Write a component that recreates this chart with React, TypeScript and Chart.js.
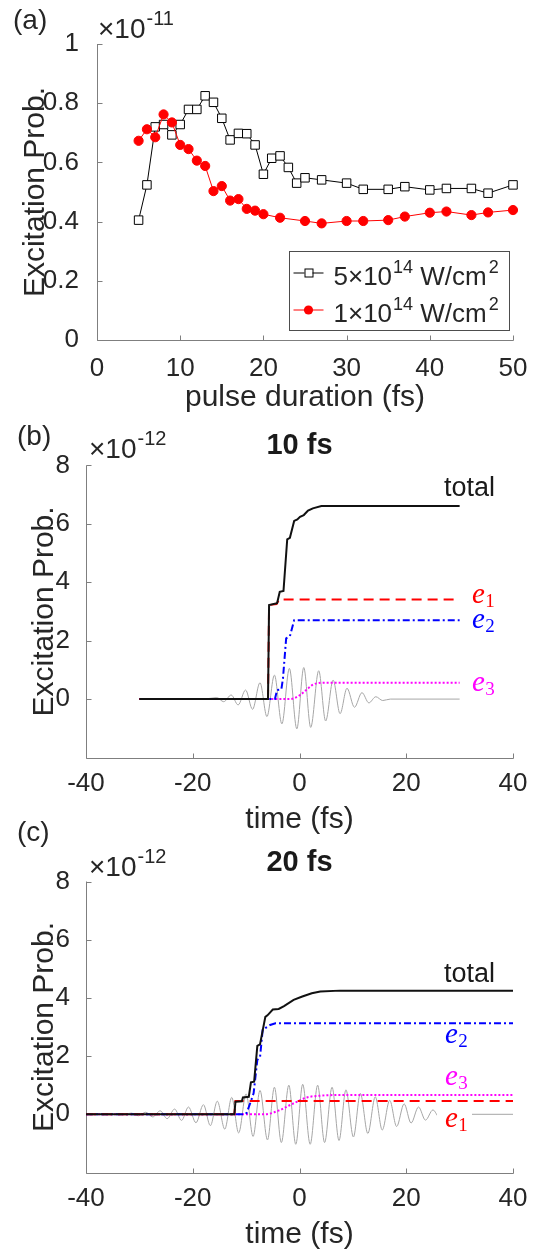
import React, { useEffect, useRef } from 'react';
import { Chart, registerables } from 'chart.js';
Chart.register(...registerables);

// ---------------- data ----------------
// panel (a): excitation probability (x1e-11) vs pulse duration (fs)
const durationHigh = [5, 6, 7, 8, 9, 10, 11, 12, 13, 14, 15, 16, 17, 18, 19, 20, 21, 22, 23, 24, 25, 27, 30, 32, 35, 37, 40, 42, 45, 47, 50];
const probHigh = [0.405, 0.524, 0.72, 0.728, 0.693, 0.728, 0.779, 0.779, 0.825, 0.803, 0.749, 0.676, 0.698, 0.697, 0.659, 0.56, 0.614, 0.622, 0.583, 0.53, 0.548, 0.541, 0.53, 0.509, 0.509, 0.518, 0.507, 0.512, 0.512, 0.496, 0.524];
const durationLow = [5, 6, 7, 8, 9, 10, 11, 12, 13, 14, 15, 16, 17, 18, 19, 20, 22, 25, 27, 30, 32, 35, 37, 40, 42, 45, 47, 50];
const probLow = [0.673, 0.712, 0.685, 0.762, 0.735, 0.659, 0.645, 0.606, 0.588, 0.503, 0.52, 0.471, 0.476, 0.443, 0.437, 0.425, 0.413, 0.402, 0.394, 0.402, 0.402, 0.405, 0.417, 0.43, 0.434, 0.422, 0.431, 0.439];
const ticksDuration = [0, 10, 20, 30, 40, 50];
const ticksProbA = [0, 0.2, 0.4, 0.6, 0.8, 1];

// panels (b), (c): time (fs) and probability (x1e-12)
const ticksTime = [-40, -20, 0, 20, 40];
const ticksProbB = [0, 2, 4, 6, 8];

// (b) 10 fs
const totalBX = [-30, -5.9, -5.7, -4.2, -3.7, -3.0, -2.3, -1.8, -1.0, -0.4, 0.1, 0.8, 1.6, 2.5, 4.1, 30];
const totalBY = [0, 0, 3.22, 3.28, 3.67, 3.7, 5.47, 5.52, 6.1, 6.15, 6.24, 6.3, 6.45, 6.53, 6.61, 6.61];
const e1BX = [-30, -5.9, -5.7, -4.3, -3.8, 30];
const e1BY = [0, 0, 3.22, 3.25, 3.41, 3.41];
const e2BX = [-30, -4.6, -4.2, -3.4, -3.1, -2.5, -1.8, -1.0, 30];
const e2BY = [0, 0, 0.31, 0.33, 0.7, 2.08, 2.15, 2.7, 2.7];
const e3BX = [-30, -2.0, -1.0, 0.1, 1.4, 2.3, 3.3, 5.1, 30];
const e3BY = [0, 0, 0.03, 0.14, 0.33, 0.47, 0.54, 0.56, 0.56];
const fieldBX = [-30, -18, -15.5, -14.2, -12.8, -11.5, -10.1, -8.8, -7.4, -6.1, -4.7, -3.3, -1.9, -0.5, 0.8, 2.1, 3.6, 4.9, 6.3, 7.6, 8.9, 10.3, 11.7, 13.0, 14.3, 15.6, 17.0, 30];
const fieldBY = [0, 0, 0.05, -0.09, 0.14, -0.2, 0.31, -0.35, 0.56, -0.6, 0.82, -0.85, 1.05, -1.02, 1.08, -0.97, 0.97, -0.75, 0.65, -0.5, 0.37, -0.28, 0.22, -0.13, 0.08, -0.05, 0, 0];

// (c) 20 fs
const totalCX = [-40, -12.2, -12.0, -10.8, -10.6, -9.5, -9.1, -8.5, -7.9, -7.4, -6.4, -6.0, -5.0, -3.9, -2.9, -1.1, 0.4, 2.3, 3.9, 7.6, 40];
const totalCY = [0, 0, 0.43, 0.45, 0.58, 0.6, 1.1, 1.12, 2.35, 2.4, 3.35, 3.4, 3.6, 3.62, 3.72, 3.93, 4.04, 4.16, 4.22, 4.25, 4.25];
const e1CX = [-40, -12.2, -12.0, 40];
const e1CY = [0, 0, 0.46, 0.46];
const e2CX = [-40, -10.2, -9.9, -9.2, -8.6, -7.9, -7.4, -6.9, -5.5, -4.5, 40];
const e2CY = [0, 0, 0.05, 0.4, 0.72, 1.87, 1.95, 2.9, 3.07, 3.13, 3.13];
const e3CX = [-40, -6.5, -3.6, -2.4, -0.5, 1.4, 3.9, 6.4, 40];
const e3CY = [0, 0, 0.15, 0.26, 0.43, 0.58, 0.64, 0.66, 0.66];
const fieldCX = [-40, -33, -31.5, -30.2, -28.8, -27.5, -26.1, -24.8, -23.4, -22.1, -20.8, -19.4, -18.0, -16.7, -15.4, -14.0, -12.7, -11.4, -10.0, -8.7, -7.4, -6.0, -4.7, -3.4, -2.0, -0.7, 0.6, 2.0, 3.4, 4.7, 6.1, 7.4, 8.7, 10.1, 11.4, 12.8, 14.2, 15.5, 16.9, 18.2, 19.6, 20.9, 22.3, 23.6, 25.0, 26.2, 27.5, 40];
const fieldCY = [0, 0, 0.04, -0.05, 0.07, -0.09, 0.12, -0.15, 0.18, -0.21, 0.25, -0.29, 0.33, -0.39, 0.45, -0.51, 0.58, -0.64, 0.7, -0.76, 0.82, -0.88, 0.93, -0.97, 1.0, -1.03, 1.03, -1.03, 1.0, -0.97, 0.93, -0.9, 0.84, -0.78, 0.72, -0.66, 0.6, -0.54, 0.48, -0.42, 0.36, -0.3, 0.25, -0.2, 0.15, -0.1, 0, 0];

// ---------------- styling helpers ----------------
const SANS = "'Liberation Sans', Arial, Helvetica, sans-serif";
const SERIF = "'Liberation Serif', 'Times New Roman', serif";
const TXT = '#262626';
const AXIS = '#7f7f7f';
const W = 536;
const TICK_SIZE = 26;

const pts = (xs: number[], ys: number[]) => xs.map((x, i) => ({ x, y: ys[i] }));

function drawAxes(chart: any) {
  const { ctx, chartArea: a, scales } = chart;
  const x = scales.x, y = scales.y;
  ctx.save();
  ctx.strokeStyle = AXIS;
  ctx.lineWidth = 1;
  ctx.beginPath();
  const L = Math.round(a.left) + 0.5, B = Math.round(a.bottom) + 0.5;
  ctx.moveTo(L, a.top);
  ctx.lineTo(L, B);
  ctx.lineTo(a.right + 0.5, B);
  for (const t of x.ticks) {
    const p = Math.round(x.getPixelForValue(t.value)) + 0.5;
    ctx.moveTo(p, B);
    ctx.lineTo(p, B - 5);
  }
  for (const t of y.ticks) {
    const p = Math.round(y.getPixelForValue(t.value)) + 0.5;
    ctx.moveTo(L, p);
    ctx.lineTo(L + 5, p);
  }
  ctx.stroke();
  ctx.restore();
}

function text(ctx: any, s: string, x: number, y: number, f: string, color = TXT, align = 'left') {
  ctx.font = f;
  ctx.fillStyle = color;
  ctx.textAlign = align;
  ctx.textBaseline = 'alphabetic';
  ctx.fillText(s, x, y);
  return x + ctx.measureText(s).width;
}

function yTitle(ctx: any, s: string, bx: number, cy: number, size: number) {
  ctx.save();
  ctx.translate(bx, cy);
  ctx.rotate(-Math.PI / 2);
  text(ctx, s, 0, 0, `${size}px ${SANS}`, TXT, 'center');
  ctx.restore();
}

function multiplier(ctx: any, x: number, y: number, exp: string) {
  const e = text(ctx, '\u00d710', x, y, `28px ${SANS}`);
  text(ctx, exp, e + 1, y - 13, `20px ${SANS}`);
}

function eLabel(ctx: any, x: number, y: number, sub: string, color: string, bg = false) {
  ctx.save();
  if (bg) {
    ctx.fillStyle = '#ffffff';
    ctx.fillRect(x - 8, y - 21, 35, 30);
  }
  const e = text(ctx, 'e', x, y, `italic 29px ${SERIF}`, color);
  text(ctx, sub, e + 0.5, y + 4, `19px ${SERIF}`, color);
  ctx.restore();
}

function scaleX(min: number, max: number, tickVals: number[], h: number, pad: number, fmt: (v: number) => string) {
  return {
    type: 'linear', min, max,
    afterBuildTicks: (s: any) => { s.ticks = tickVals.map((v) => ({ value: v })); },
    afterFit: (s: any) => { s.height = h; },
    ticks: { font: { family: SANS, size: TICK_SIZE }, color: TXT, padding: pad, maxRotation: 0, autoSkip: false, callback: (v: any) => fmt(Number(v)) },
    grid: { display: false }, border: { display: false },
  };
}
function scaleY(min: number, max: number, tickVals: number[], w: number, pad: number, fmt: (v: number) => string) {
  return {
    type: 'linear', min, max,
    afterBuildTicks: (s: any) => { s.ticks = tickVals.map((v) => ({ value: v })); },
    afterFit: (s: any) => { s.width = w; },
    ticks: { font: { family: SANS, size: TICK_SIZE }, color: TXT, padding: pad, autoSkip: false, callback: (v: any) => fmt(Number(v)) },
    grid: { display: false }, border: { display: false },
  };
}

// ---------------- panel (a) ----------------
function buildA(top: number, height: number) {
  const T = 44 - top, B = 340 - top, L = 97, R = 513;
  return {
    type: 'line',
    data: {
      datasets: [
        {
          data: pts(durationLow, probLow), borderColor: '#ff0000', borderWidth: 1,
          pointStyle: 'circle', pointRadius: 4.6, pointBackgroundColor: '#ff0000', pointBorderColor: '#ff0000', pointBorderWidth: 1, clip: false,
        },
        {
          data: pts(durationHigh, probHigh), borderColor: '#000000', borderWidth: 1,
          pointStyle: 'rect', pointRadius: 6, pointBackgroundColor: '#ffffff', pointBorderColor: '#000000', pointBorderWidth: 1, clip: false,
        },
      ],
    },
    options: {
      animation: false, responsive: false, events: [],
      layout: { padding: { left: 0, right: W - R, top: T, bottom: 0 } },
      plugins: { legend: { display: false }, tooltip: { enabled: false } },
      scales: {
        x: scaleX(0, 50, ticksDuration, height - B, 5, (v) => String(v)),
        y: scaleY(0, 1, ticksProbA, L, 10, (v) => (v === 0 || v === 1 ? String(v) : v.toFixed(1))),
      },
    },
    plugins: [{
      id: 'decorA',
      beforeDatasetsDraw: (c: any) => drawAxes(c),
      afterDraw: (c: any) => {
        const ctx = c.ctx, a = c.chartArea;
        ctx.save();
        text(ctx, '(a)', 13, 29 - top, `28px ${SANS}`);
        multiplier(ctx, a.left + 1, a.top - 6, '-11');
        text(ctx, 'pulse duration (fs)', (a.left + a.right) / 2, a.bottom + 66, `30px ${SANS}`, TXT, 'center');
        yTitle(ctx, 'Excitation Prob.', 44, (a.top + a.bottom) / 2, 30);
        // legend
        const bx = 289.5, by = 251.5 - top, bw = 220, bh = 79;
        ctx.fillStyle = '#ffffff';
        ctx.fillRect(bx, by, bw, bh);
        ctx.strokeStyle = '#4d4d4d';
        ctx.lineWidth = 1;
        ctx.strokeRect(bx, by, bw, bh);
        const rows = [
          { y: by + 21, color: '#000000', kind: 'rect', lead: '5' },
          { y: by + 58, color: '#ff0000', kind: 'circle', lead: '1' },
        ];
        for (const r of rows) {
          ctx.strokeStyle = r.color;
          ctx.beginPath();
          ctx.moveTo(bx + 4, r.y + 0.5);
          ctx.lineTo(bx + 34, r.y + 0.5);
          ctx.stroke();
          const cx = bx + 19;
          if (r.kind === 'rect') {
            ctx.fillStyle = '#fff';
            ctx.fillRect(cx - 4, r.y - 4, 8, 8);
            ctx.strokeStyle = '#000';
            ctx.strokeRect(cx - 4 + 0.5, r.y - 4 + 0.5, 8, 8);
          } else {
            ctx.fillStyle = '#ff0000';
            ctx.beginPath();
            ctx.arc(cx, r.y + 0.5, 4.6, 0, Math.PI * 2);
            ctx.fill();
          }
          let x = text(ctx, r.lead + '\u00d710', bx + 44, r.y + 12, `26px ${SANS}`);
          x = text(ctx, '14', x + 1, r.y, `18px ${SANS}`);
          x = text(ctx, ' W/cm', x, r.y + 12, `26px ${SANS}`);
          text(ctx, '2', x + 2, r.y, `18px ${SANS}`);
        }
        ctx.restore();
      },
    }],
  };
}

// ---------------- panels (b), (c) ----------------
type TimeSpec = {
  letter: string; title: string; xmin: number; xmax: number;
  pageT: number; pageB: number;
  total: [number[], number[]]; e1: [number[], number[]]; e2: [number[], number[]]; e3: [number[], number[]]; field: [number[], number[]];
  letterY: number; multY: number; titleY: number;
  labels: { t: string; x: number; y: number; sub?: string; color: string; bg?: boolean }[];
};

function buildTime(spec: TimeSpec) {
  return (top: number, height: number) => {
    const T = spec.pageT - top, B = spec.pageB - top, L = 86, R = 513;
    const line = (d: [number[], number[]], color: string, width: number, dash: number[], extra: any = {}) => ({
      data: pts(d[0], d[1]), borderColor: color, borderWidth: width, borderDash: dash, pointRadius: 0, clip: false, ...extra,
    });
    return {
      type: 'line',
      data: {
        datasets: [
          line(spec.total, '#111111', 2, []),
          line(spec.e1, '#ff0000', 2, [10, 6]),
          line(spec.e2, '#0000ff', 2, [7, 3, 2, 3]),
          line(spec.e3, '#ff00ff', 2, [2, 2], { cubicInterpolationMode: 'monotone' }),
          line(spec.field, '#a6a6a6', 1, [], { cubicInterpolationMode: 'monotone' }),
        ],
      },
      options: {
        animation: false, responsive: false, events: [],
        layout: { padding: { left: 0, right: W - R, top: T, bottom: 0 } },
        plugins: { legend: { display: false }, tooltip: { enabled: false } },
        scales: {
          x: scaleX(spec.xmin, spec.xmax, ticksTime, height - B, 3, (v) => String(v)),
          y: scaleY(-2, 8, ticksProbB, L, 8, (v) => String(v)),
        },
      },
      plugins: [{
        id: 'decor' + spec.letter,
        beforeDatasetsDraw: (c: any) => drawAxes(c),
        afterDatasetsDraw: (c: any) => {
          const ctx = c.ctx, a = c.chartArea;
          ctx.save();
          text(ctx, spec.letter, 17, spec.letterY - top, `28px ${SANS}`);
          multiplier(ctx, a.left + 3, spec.multY - top, '-12');
          text(ctx, spec.title, (a.left + a.right) / 2, spec.titleY - top, `bold 29px ${SANS}`, '#1a1a1a', 'center');
          text(ctx, 'time (fs)', (a.left + a.right) / 2, a.bottom + 70, `30px ${SANS}`, TXT, 'center');
          yTitle(ctx, 'Excitation Prob.', 53, (a.top + a.bottom) / 2, 30);
          for (const l of spec.labels) {
            if (l.sub) eLabel(ctx, l.x, l.y - top, l.sub, l.color, l.bg);
            else text(ctx, l.t, l.x, l.y - top, `27px ${SANS}`, '#1a1a1a');
          }
          ctx.restore();
        },
      }],
    };
  };
}

const buildB = buildTime({
  letter: '(b)', title: '10 fs', xmin: -40, xmax: 40, pageT: 465.4, pageB: 757.5,
  total: [totalBX, totalBY], e1: [e1BX, e1BY], e2: [e2BX, e2BY], e3: [e3BX, e3BY], field: [fieldBX, fieldBY],
  letterY: 445, multY: 458, titleY: 454,
  labels: [
    { t: 'total', x: 444, y: 496, color: '#1a1a1a' },
    { t: 'e', x: 472, y: 603, sub: '1', color: '#ff0000' },
    { t: 'e', x: 472, y: 628, sub: '2', color: '#0000ff' },
    { t: 'e', x: 472, y: 691, sub: '3', color: '#ff00ff' },
  ],
});

const buildC = buildTime({
  letter: '(c)', title: '20 fs', xmin: -40, xmax: 40, pageT: 881.5, pageB: 1172.5,
  total: [totalCX, totalCY], e1: [e1CX, e1CY], e2: [e2CX, e2CY], e3: [e3CX, e3CY], field: [fieldCX, fieldCY],
  letterY: 841, multY: 876, titleY: 871,
  labels: [
    { t: 'total', x: 444, y: 982, color: '#1a1a1a' },
    { t: 'e', x: 445, y: 1043, sub: '2', color: '#0000ff' },
    { t: 'e', x: 445, y: 1085, sub: '3', color: '#ff00ff' },
    { t: 'e', x: 445, y: 1127, sub: '1', color: '#ff0000', bg: true },
  ],
});

function ChartPanel({ top, height, build }: { top: number; height: number; build: (t: number, h: number) => any }) {
  const ref = useRef<HTMLCanvasElement | null>(null);
  useEffect(() => {
    if (!ref.current) return;
    const chart = new Chart(ref.current, build(top, height));
    return () => chart.destroy();
  }, [top, height, build]);
  return (
    <canvas
      ref={ref}
      width={W}
      height={height}
      style={{ position: 'absolute', left: 0, top, width: W, height, display: 'block' }}
    />
  );
}

export default function App() {
  useEffect(() => {
    document.body.style.margin = '0';
    document.body.style.overflow = 'hidden';
  }, []);
  return (
    <div style={{ position: 'absolute', left: 0, top: 0, width: W, height: 1251, background: '#ffffff', overflow: 'hidden' }}>
      <ChartPanel top={0} height={418} build={buildA} />
      <ChartPanel top={418} height={422} build={buildB} />
      <ChartPanel top={815} height={436} build={buildC} />
    </div>
  );
}
